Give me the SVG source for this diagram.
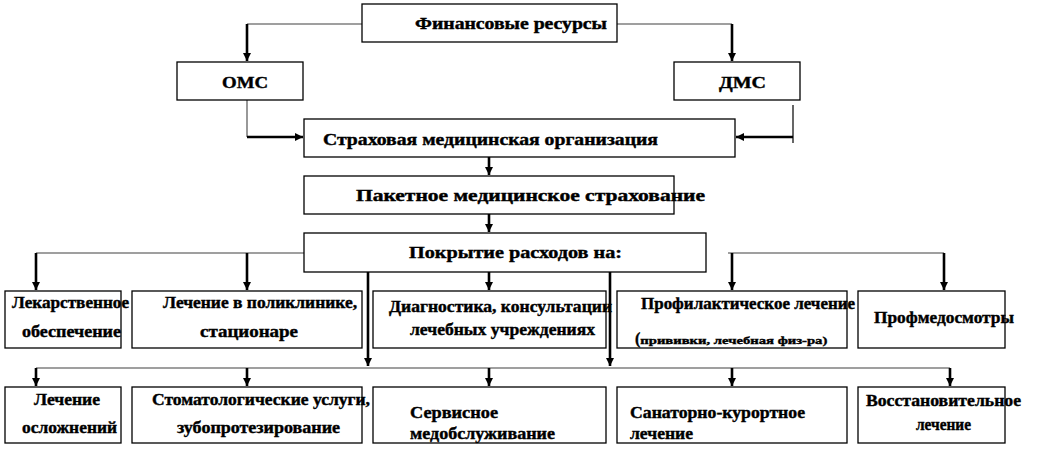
<svg xmlns="http://www.w3.org/2000/svg" width="1042" height="452" viewBox="0 0 1042 452">
<defs>
<marker id="ah" markerUnits="userSpaceOnUse" markerWidth="10" markerHeight="10" refX="8" refY="4" orient="auto">
<path d="M0,0 L8,4 L0,8 z" fill="#000"/>
</marker>
<style>
.box{fill:#fff;stroke:#000;stroke-width:1.3}
.g{stroke:#7f7f7f;stroke-width:1.6;fill:none}
.k{stroke:#000;stroke-width:2.6;fill:none}
.kt{stroke:#000;stroke-width:1.2;fill:none}
</style>
</defs>
<rect width="1042" height="452" fill="#fff"/>
<g id="connectors">
<path class="g" d="M362,24 H247"/>
<path class="k" d="M247,24 V61" marker-end="url(#ah)"/>
<path class="g" d="M617,24 H732"/>
<path class="k" d="M732,24 V61" marker-end="url(#ah)"/>
<path class="g" d="M247,100 V137"/>
<path class="k" d="M247,137 H303" marker-end="url(#ah)"/>
<path class="kt" d="M793,105 V143"/>
<path class="k" d="M793,137 H736" marker-end="url(#ah)"/>
<path class="k" d="M489,157 V175" marker-end="url(#ah)"/>
<path class="k" d="M489,214 V232" marker-end="url(#ah)"/>
<path class="g" d="M36,253 H358"/>
<path class="k" d="M36,253 V290" marker-end="url(#ah)"/>
<path class="k" d="M247,253 V290" marker-end="url(#ah)"/>
<path class="k" d="M489,272 V290" marker-end="url(#ah)"/>
<path class="g" d="M728,253 H944"/>
<path class="k" d="M732,253 V290" marker-end="url(#ah)"/>
<path class="k" d="M944,253 V290" marker-end="url(#ah)"/>
<path class="k" d="M368,272 V366" marker-end="url(#ah)"/>
<path class="k" d="M610,272 V366" marker-end="url(#ah)"/>
<path class="g" d="M36,368 H950"/>
<path class="k" d="M36,368 V386" marker-end="url(#ah)"/>
<path class="k" d="M247,368 V386" marker-end="url(#ah)"/>
<path class="k" d="M489,368 V386" marker-end="url(#ah)"/>
<path class="k" d="M732,368 V386" marker-end="url(#ah)"/>
<path class="k" d="M950,368 V386" marker-end="url(#ah)"/>
</g>
<g font-family="Liberation Serif, Times New Roman, serif" font-weight="bold" font-size="16" fill="#000" stroke="#000" stroke-width="0.4">
<g id="fin"><rect class="box" x="362" y="4" width="255" height="38"/><text x="415" y="29" textLength="192" lengthAdjust="spacingAndGlyphs">Финансовые  ресурсы</text></g>
<g id="oms"><rect class="box" x="177" y="62" width="126" height="38"/><text x="222" y="88" textLength="46" lengthAdjust="spacingAndGlyphs">ОМС</text></g>
<g id="dms"><rect class="box" x="674" y="62" width="126" height="38"/><text x="719" y="88" textLength="47" lengthAdjust="spacingAndGlyphs">ДМС</text></g>
<g id="smo"><rect class="box" x="304" y="119" width="431" height="38"/><text x="323" y="145" textLength="335" lengthAdjust="spacingAndGlyphs">Страховая  медицинская  организация</text></g>
<g id="pms"><rect class="box" x="304" y="176" width="370" height="38"/><text x="356" y="201" textLength="349" lengthAdjust="spacingAndGlyphs">Пакетное медицинское страхование</text></g>
<g id="cover"><rect class="box" x="304" y="233" width="402" height="39"/><text x="409" y="258" textLength="213" lengthAdjust="spacingAndGlyphs">Покрытие  расходов  на:</text></g>
<g id="drug"><rect class="box" x="5" y="291" width="116" height="57"/><text x="12" y="308" textLength="117" lengthAdjust="spacingAndGlyphs">Лекарственное</text><text x="22" y="337" textLength="99" lengthAdjust="spacingAndGlyphs">обеспечение</text></g>
<g id="poly"><rect class="box" x="132" y="291" width="230" height="57"/><text x="163" y="308" textLength="194" lengthAdjust="spacingAndGlyphs">Лечение в поликлинике,</text><text x="200" y="337" textLength="98" lengthAdjust="spacingAndGlyphs">стационаре</text></g>
<g id="diag"><rect class="box" x="373" y="291" width="233" height="57"/><text x="389" y="312" textLength="223" lengthAdjust="spacingAndGlyphs">Диагностика, консультации</text><text x="410" y="335" textLength="185" lengthAdjust="spacingAndGlyphs">лечебных учреждениях</text></g>
<g id="prof"><rect class="box" x="617" y="291" width="230" height="57"/><text x="641" y="309" textLength="214" lengthAdjust="spacingAndGlyphs">Профилактическое лечение</text><text x="635" y="344"><tspan font-size="16">(</tspan><tspan font-size="11" textLength="187" lengthAdjust="spacingAndGlyphs">прививки, лечебная физ-ра)</tspan></text></g>
<g id="medo"><rect class="box" x="858" y="291" width="147" height="57"/><text x="874" y="323" textLength="140" lengthAdjust="spacingAndGlyphs">Профмедосмотры</text></g>
<g id="compl"><rect class="box" x="5" y="387" width="116" height="56"/><text x="34" y="405" textLength="66" lengthAdjust="spacingAndGlyphs">Лечение</text><text x="22" y="433" textLength="95" lengthAdjust="spacingAndGlyphs">осложнений</text></g>
<g id="stom"><rect class="box" x="132" y="387" width="230" height="56"/><text x="152" y="405" textLength="218" lengthAdjust="spacingAndGlyphs">Стоматологические услуги,</text><text x="177" y="433" textLength="163" lengthAdjust="spacingAndGlyphs">зубопротезирование</text></g>
<g id="serv"><rect class="box" x="373" y="387" width="233" height="56"/><text x="410" y="418" textLength="88" lengthAdjust="spacingAndGlyphs">Сервисное</text><text x="410" y="439" textLength="145" lengthAdjust="spacingAndGlyphs">медобслуживание</text></g>
<g id="sana"><rect class="box" x="617" y="387" width="230" height="56"/><text x="630" y="418" textLength="175" lengthAdjust="spacingAndGlyphs">Санаторно-курортное</text><text x="630" y="439" textLength="63" lengthAdjust="spacingAndGlyphs">лечение</text></g>
<g id="rest"><rect class="box" x="858" y="387" width="147" height="56"/><text x="866" y="406" textLength="155" lengthAdjust="spacingAndGlyphs">Восстановительное</text><text x="916" y="430" textLength="55" lengthAdjust="spacingAndGlyphs">лечение</text></g>
</g>
</svg>
